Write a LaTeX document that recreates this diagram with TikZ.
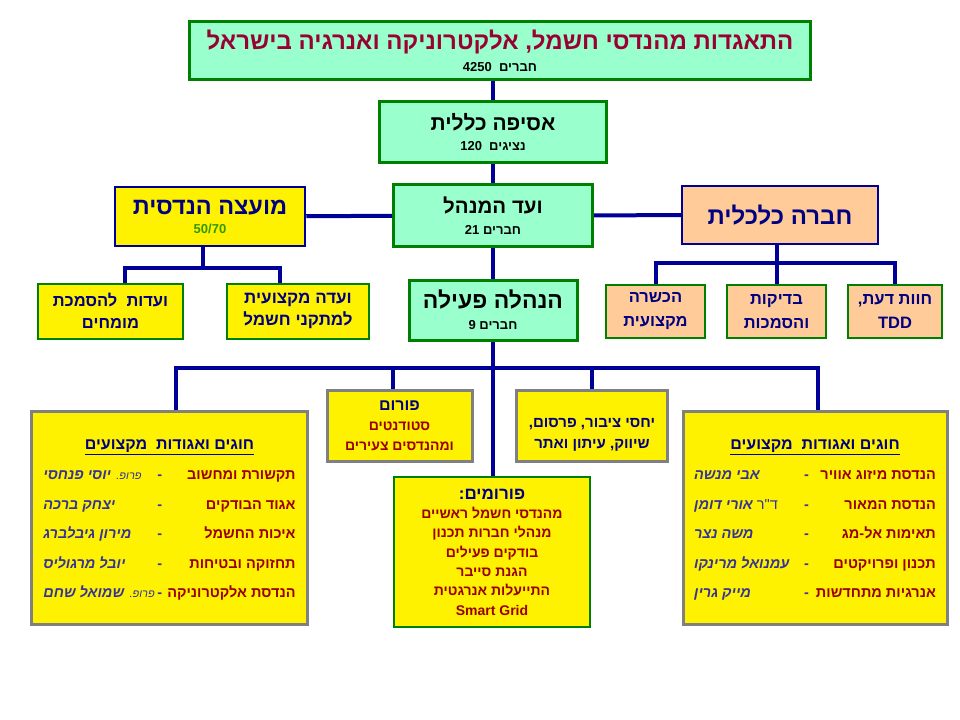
\documentclass[tikz,border=0pt]{standalone}
\usepackage{fontspec}
\setmainfont{Liberation Sans}
\newfontfamily\hebfont[Script=Hebrew]{Liberation Sans}
\usetikzlibrary{calc}
\TeXXeTstate=1
\newcommand{\rtl}[1]{\beginR #1\endR}
\newcommand{\fsz}[2]{\fontsize{#1bp}{#2bp}\selectfont}
\newcommand{\who}[2]{\color{nameblue}\itshape\makebox[#1][l]{#2}}
\newcommand{\prof}{{\mdseries\fsz{11}{17}פרופ.}}
\definecolor{mint}{RGB}{153,255,204}
\definecolor{leafgreen}{RGB}{0,128,0}
\definecolor{navyline}{RGB}{0,0,153}
\definecolor{peach}{RGB}{255,204,153}
\definecolor{boxgray}{RGB}{128,128,128}
\definecolor{titlered}{RGB}{153,0,51}
\definecolor{itemred}{RGB}{153,0,0}
\definecolor{inkblue}{RGB}{0,0,128}
\definecolor{nameblue}{RGB}{51,51,153}
\definecolor{numgreen}{RGB}{51,153,0}

\begin{document}
\begin{tikzpicture}[x=1bp, y=-1bp, font=\hebfont\bfseries, inner sep=0pt, align=center,
	mintbox/.style={draw=leafgreen, fill=mint, line width=3bp},
	bluebox/.style={draw=navyline, line width=2.5bp},
	smallbox/.style={draw=leafgreen, line width=2bp, text=inkblue},
	graybox/.style={draw=boxgray, fill=yellow, line width=3bp},
	link/.style={draw=navyline, line width=4bp}]
	\useasboundingbox (0,0) rectangle (960,720);
	\node[mintbox, minimum width=620bp, minimum height=58bp] (iaee) at (500,51)
		{{\fsz{24}{20}\color{titlered}\rtl{התאגדות מהנדסי חשמל, אלקטרוניקה ואנרגיה בישראל}}\\[8bp]
		 {\fsz{13}{19}\rtl{חברים~ \beginL4250\endL}}};
	\node[mintbox, minimum width=227bp, minimum height=60bp] (assembly) at (493,132)
		{{\fsz{21}{20}\rtl{אסיפה כללית}}\\[8bp] {\fsz{13}{21}\rtl{נציגים~ \beginL120\endL}}};
	\node[mintbox, minimum width=199bp, minimum height=61bp] (board) at (493,215.5)
		{{\fsz{20.5}{20}\rtl{ועד המנהל}}\\[9bp] {\fsz{13}{21}\rtl{חברים \beginL21\endL}}};
	\node[bluebox, fill=yellow, minimum width=190bp, minimum height=59bp] (council) at (210,216.5)
		{{\fsz{23.5}{20}\color{inkblue}\rtl{מועצה הנדסית}}\\[7bp] {\fsz{13}{19}\color{numgreen}50/70}};
	\node[bluebox, fill=peach, minimum width=196bp, minimum height=58bp] (company) at (780,215)
		{{\fsz{24}{24}\color{inkblue}\rtl{חברה כלכלית}}};
	\node[mintbox, minimum width=168bp, minimum height=60bp] (exec) at (493,310)
		{{\fsz{23}{20}\rtl{הנהלה פעילה}}\\[9bp] {\fsz{13}{22}\rtl{חברים \beginL9\endL}}};

	% under the council
	\node[smallbox, fill=yellow, minimum width=145bp, minimum height=55bp, font=\hebfont\bfseries\fsz{16.5}{22}] (experts) at (110.5,311)
		{\rtl{ועדות~ להסמכת}\\ \rtl{מומחים}};
	\node[smallbox, fill=yellow, minimum width=142bp, minimum height=55bp, font=\hebfont\bfseries\fsz{17}{22}] (installs) at (298,311)
		{\rtl{ועדה מקצועית}\\ \rtl{למתקני חשמל}};

	% under the company
	\node[smallbox, fill=peach, minimum width=99bp, minimum height=53bp, font=\hebfont\bfseries\fsz{16.5}{24}] (training) at (655.5,311.5)
		{\rtl{הכשרה}\\ \rtl{מקצועית}};
	\node[smallbox, fill=peach, minimum width=99bp, minimum height=53bp, font=\hebfont\bfseries\fsz{16.5}{24}] (tests) at (776.5,311.5)
		{\rtl{בדיקות}\\ \rtl{והסמכות}};
	\node[smallbox, fill=peach, minimum width=94bp, minimum height=53bp, font=\hebfont\bfseries\fsz{16.5}{24}] (tdd) at (895,311.5)
		{\rtl{חוות דעת,}\\ TDD};

	% under the executive
	\node[graybox, minimum width=145bp, minimum height=71bp, font=\hebfont\bfseries\fsz{14}{20}] (students) at (399.5,426)
		{{\fsz{16}{20}\color{inkblue}\rtl{פורום}}\\ \color{itemred}\rtl{סטודנטים}\\ \color{itemred}\rtl{ומהנדסים צעירים}};
	\node[graybox, minimum width=151bp, minimum height=71bp, font=\hebfont\bfseries\fsz{15}{21}, text=inkblue] (pr) at (592,426)
		{\rule{0pt}{6bp}\\ \rtl{יחסי ציבור, פרסום,}\\ \rtl{שיווק, עיתון ואתר}};
	\node[smallbox, fill=yellow, minimum width=196bp, minimum height=150bp, font=\hebfont\bfseries\fsz{14}{19.3}, text=itemred] (forums) at (492,552)
		{{\fsz{17}{19.3}\color{inkblue}\rtl{פורומים:}}\\ \rtl{מהנדסי חשמל ראשיים}\\ \rtl{מנהלי חברות תכנון}\\
		 \rtl{בודקים פעילים}\\ \rtl{הגנת סייבר}\\ \rtl{התייעלות אנרגטית}\\ Smart Grid};

	\node[graybox, minimum width=275bp, minimum height=213bp, font=\hebfont\bfseries\fsz{14.5}{17}] (leftclubs) at (169.5,518)
		{\renewcommand{\arraystretch}{1.74}%
		 \begin{tabular}{@{}l@{\hspace{6bp}}c@{\hspace{5bp}}r@{}}
		 \multicolumn{3}{c}{\fsz{16}{17}\color{inkblue}\underline{\rtl{חוגים ואגודות~ מקצועים}}}\\
		 \who{108bp}{\rtl{\prof{} יוסי פנחסי}} & \color{nameblue}- & \color{itemred}\rtl{תקשורת ומחשוב}\\
		 \who{108bp}{\rtl{~~~יצחק ברכה}} & \color{nameblue}- & \color{itemred}\rtl{אגוד הבודקים}\\
		 \who{108bp}{\rtl{מירון גיבלברג}} & \color{nameblue}- & \color{itemred}\rtl{איכות החשמל}\\
		 \who{108bp}{\rtl{~יובל מרגוליס}} & \color{nameblue}- & \color{itemred}\rtl{תחזוקה ובטיחות}\\
		 \who{108bp}{\rtl{\prof{} שמואל שחם}} & \color{nameblue}- & \color{itemred}\rtl{הנדסת אלקטרוניקה}
		 \end{tabular}};
	\node[graybox, minimum width=264bp, minimum height=213bp, font=\hebfont\bfseries\fsz{14.5}{17}] (rightclubs) at (815,518)
		{\renewcommand{\arraystretch}{1.74}%
		 \begin{tabular}{@{}l@{\hspace{6bp}}c@{\hspace{7bp}}r@{}}
		 \multicolumn{3}{c}{\fsz{16}{17}\color{inkblue}\underline{\rtl{חוגים ואגודות~ מקצועים}}}\\
		 \who{104bp}{\rtl{~~אבי מנשה}} & \color{nameblue}- & \color{itemred}\rtl{הנדסת מיזוג אוויר}\\
		 \who{104bp}{\rtl{{\mdseries\upshape ד"ר} אורי דומן}} & \color{nameblue}- & \color{itemred}\rtl{הנדסת המאור}\\
		 \who{104bp}{\rtl{~~משה נצר}} & \color{nameblue}- & \color{itemred}\rtl{תאימות אל-מג}\\
		 \who{104bp}{\rtl{עמנואל מרינקו}} & \color{nameblue}- & \color{itemred}\rtl{תכנון ופרויקטים}\\
		 \who{104bp}{\rtl{~~מייק גרין}} & \color{nameblue}- & \color{itemred}\rtl{אנרגיות מתחדשות}
		 \end{tabular}};

	\coordinate (cbus) at (203,268);
	\coordinate (ebus) at (777,263);
	\coordinate (xbus) at (493,368);

	\draw[link] (assembly.north) -- (assembly.north |- iaee.south);
	\draw[link] (assembly) -- (board);
	\draw[link] (board) -- (exec);
	\draw[link] (exec) -- (exec |- forums.north);
	\draw[link] (council) -- (board);
	\draw[link] (board) -- (company);

	\draw[link] (council.south -| cbus) -- (cbus);
	\draw[link] ([xshift=14bp]experts.north) |- (cbus) -| ([xshift=-18bp]installs.north);
	\draw[link] (company.south -| ebus) -- (ebus);
	\draw[link] (training.north) |- (ebus) -| (tdd.north);
	\draw[link] (tests.north) -- (tests.north |- ebus);

	\draw[link] ([xshift=6bp]leftclubs.north) |- (xbus) -| ([xshift=3bp]rightclubs.north);
	\draw[link] ([xshift=-7bp]students.north) -- ([xshift=-7bp]students.north |- xbus);
	\draw[link] (pr.north) -- (pr.north |- xbus);
\end{tikzpicture}
\end{document}
